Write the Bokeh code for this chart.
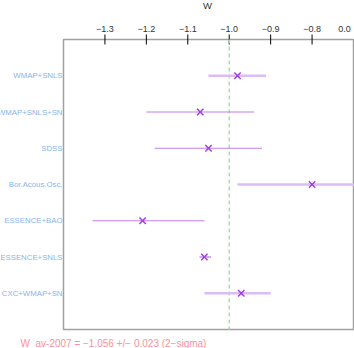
from bokeh.plotting import figure
from bokeh.models import Range1d, ColumnDataSource
from bokeh.core.properties import value
from bokeh.embed import file_html
from bokeh.resources import INLINE

# ---- data ----
names = ["WMAP+SNLS", "WMAP+SNLS+SN", "SDSS", "Bor.Acous.Osc.",
         "ESSENCE+BAO", "ESSENCE+SNLS", "CXC+WMAP+SN"]
w_center = [-0.980, -1.070, -1.050, -0.800, -1.209, -1.060, -0.971]
w_low = [-1.050, -1.200, -1.180, -0.980, -1.330, -1.072, -1.060]
w_high = [-0.911, -0.940, -0.921, -0.600, -1.060, -1.044, -0.900]
rows = [1, 2, 3, 4, 5, 6, 7]
top_ticks = [-1.3, -1.2, -1.1, -1.0, -0.9, -0.8]
top_tick_labels = ["\u22121.3", "\u22121.2", "\u22121.1", "\u22121.0", "\u22120.9", "\u22120.8"]
extra_tick_label = "0.0"
axis_title = "W"
ref_w = -1.0
result_text = "W_av-2007 = \u22121.056 +/\u2212 0.023 (2\u2212sigma)"

# ---- layout (pixels) ----
W, H = 354, 348
FL, FR, FT, FB = 63, 353, 39, 329          # plotting box edges
XMIN, XMAX = -1.4, -0.7
YMIN, YMAX = 0, 8
dx = (XMAX - XMIN) / (FR - FL)
dy = (YMAX - YMIN) / (FB - FT)

FONT = value("Liberation Sans")

p = figure(width=W, height=H, output_backend="svg", toolbar_location=None,
           x_range=Range1d(XMIN - FL * dx, XMAX + (W - FR) * dx),
           y_range=Range1d(YMAX + (H - FB) * dy, YMIN - FT * dy),
           x_axis_location=None, y_axis_location=None,
           min_border=0)
p.grid.grid_line_color = None
p.outline_line_color = None
p.background_fill_color = "white"
p.border_fill_color = "white"

# plotting box
p.quad(left=[XMIN], right=[XMAX], top=[YMIN], bottom=[YMAX],
       fill_color=None, line_color="#a0a0a0", line_width=1.5)

# top ticks (crossing the box edge) and labels
p.segment(x0=top_ticks, x1=top_ticks,
          y0=[YMIN - 5 * dy] * len(top_ticks), y1=[YMIN + 5 * dy] * len(top_ticks),
          line_color="black", line_width=1)
p.text(x=top_ticks, y=[YMIN - 11 * dy] * len(top_ticks), text=top_tick_labels,
       text_align="center", text_baseline="middle", text_font=FONT,
       text_font_size="9px", text_color="#333333")
p.text(x=[XMIN + (344 - FL) * dx], y=[YMIN - 11 * dy], text=[extra_tick_label],
       text_align="center", text_baseline="middle", text_font=FONT,
       text_font_size="9px", text_color="#333333")
p.text(x=[XMIN + (207 - FL) * dx], y=[YMIN - 34 * dy], text=[axis_title],
       text_align="center", text_baseline="middle", text_font=FONT,
       text_font_size="9.5px", text_color="#333333")

# reference line
p.segment(x0=[ref_w], x1=[ref_w], y0=[YMIN], y1=[YMAX],
          line_color="#a8e0a8", line_width=1.5, line_dash="4 3")

# error bars and markers
bar_color = ["#dcbcf6", "#c080e8", "#c080e8", "#dcbcf6", "#c080e8", "#d4acf2", "#dcbcf6"]
bar_width = [2.5, 1.2, 1.2, 2.5, 1.2, 2, 2.5]
src = ColumnDataSource(dict(name=names, c=w_center, lo=w_low, hi=w_high, y=rows,
                            col=bar_color, lw=bar_width))
p.segment(x0="lo", x1="hi", y0="y", y1="y", source=src,
          line_color="col", line_width="lw")
p.scatter(x="c", y="y", source=src, marker="x", size=9,
          line_color="#a040e0", line_width=1.5)

# category labels
p.text(x=[XMIN - 1 * dx] * len(rows), y=rows, text=names,
       text_align="right", text_baseline="middle", text_font=FONT,
       text_font_size="7.8px", text_color="#88b4ee")

# result note
p.text(x=[XMIN - (FL - 20) * dx], y=[YMAX + 14 * dy], text=[result_text],
       text_align="left", text_baseline="middle", text_font=FONT,
       text_font_size="10px", text_color="#ff8f9a")

open("out.html", "w").write(file_html(p, INLINE))
